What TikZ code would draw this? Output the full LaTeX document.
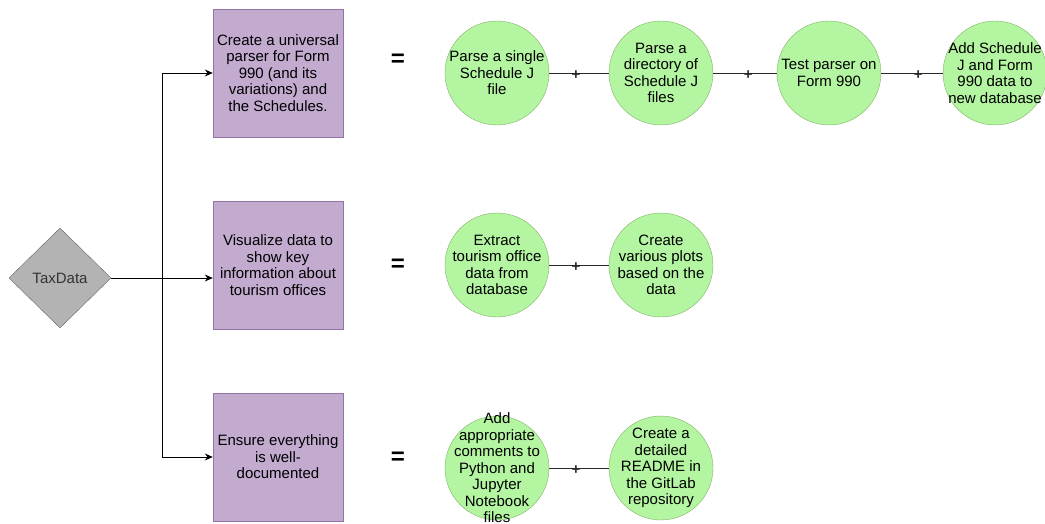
\documentclass[tikz,border=0pt]{standalone}
\usepackage{fontspec}
\setmainfont{Liberation Sans}
\usetikzlibrary{shapes.geometric,arrows.meta}
\definecolor{goalfill}{RGB}{195,171,208}
\definecolor{goalline}{RGB}{150,115,166}
\definecolor{taskfill}{RGB}{180,245,162}
\definecolor{taskline}{RGB}{130,179,102}
\definecolor{rootfill}{RGB}{179,179,179}
\definecolor{rootline}{RGB}{102,102,102}
\definecolor{roottext}{RGB}{51,51,51}
\definecolor{joinline}{RGB}{40,40,40}
\begin{document}
\begin{tikzpicture}[x=1pt,y=-1pt,
        font=\fontsize{15}{16.5}\selectfont,
        goal/.style={draw=goalline, fill=goalfill, minimum width=130pt, minimum height=128pt, inner sep=1pt, align=center},
        task/.style={circle, draw=taskline, fill=taskfill, minimum size=104pt, inner sep=0pt,
            label={[align=center, inner sep=0pt]center:#1}},
        link/.style={-{Stealth[length=8pt,width=7pt]}, line width=0.9pt},
        tasklink/.style={draw=joinline, line width=0.9pt},
        plus/.style={font=\fontsize{15}{15}\bfseries\selectfont, inner sep=0pt, text=joinline, yshift=-2.5pt},
        equals/.style={font=\fontsize{24}{24}\bfseries\selectfont}]
        \useasboundingbox (0,0) rectangle (1045,524);
        % root
        \node[diamond, draw=rootline, fill=rootfill, minimum width=102pt, minimum height=100pt, inner sep=0pt, text=roottext] (tax) at (60,278) {TaxData};
        \coordinate (split) at (162,278);
        % goals
        \node[goal] (parser) at (278,73) {Create a universal\\parser for Form\\990 (and its\\variations) and\\the Schedules.};
        \node[goal] (visual) at (278,265) {Visualize data to\\show key\\information about\\tourism offices};
        \node[goal] (docs) at (278,457) {Ensure everything\\is well-\\documented};
        \draw[link] (tax.east) -- (split) |- (parser.west);
        \draw[link] (split) -- (split -| visual.west);
        \draw[link] (split) |- (docs.west);
        % equal signs
        \node[equals] (eq1) at (398,60) {=};
        \node[equals] (eq2) at (398,265) {=};
        \node[equals] (eq3) at (398,458) {=};
        % first row
        \node[task={Parse a single\\Schedule J\\file}] (single) at (497,73) {};
        \node[task={Parse a\\directory of\\Schedule J\\files}] (folder) at (661,73) {};
        \node[task={Test parser on\\Form 990}] (test) at (829,73) {};
        \node[task={Add Schedule\\J and Form\\990 data to\\new database}] (store) at (995,73) {};
        \draw[tasklink] (single) -- node[plus, pos=0.45] {+} (folder);
        \draw[tasklink] (folder) -- node[plus, pos=0.55] {+} (test);
        \draw[tasklink] (test) -- node[plus, pos=0.6] {+} (store);
        % second row
        \node[task={Extract\\tourism office\\data from\\database}] (extract) at (497,265) {};
        \node[task={Create\\various plots\\based on the\\data}] (plots) at (661,265) {};
        \draw[tasklink] (extract) -- node[plus, pos=0.45] {+} (plots);
        % third row
        \node[task={\fontsize{15}{14.6}\selectfont Add\\appropriate\\comments to\\Python and\\Jupyter\\Notebook\\files}] (comments) at (497,468) {};
        \node[task={Create a\\detailed\\README in\\the GitLab\\repository}] (readme) at (661,468) {};
        \draw[tasklink] (comments) -- node[plus, pos=0.45] {+} (readme);
    \end{tikzpicture}
\end{document}
